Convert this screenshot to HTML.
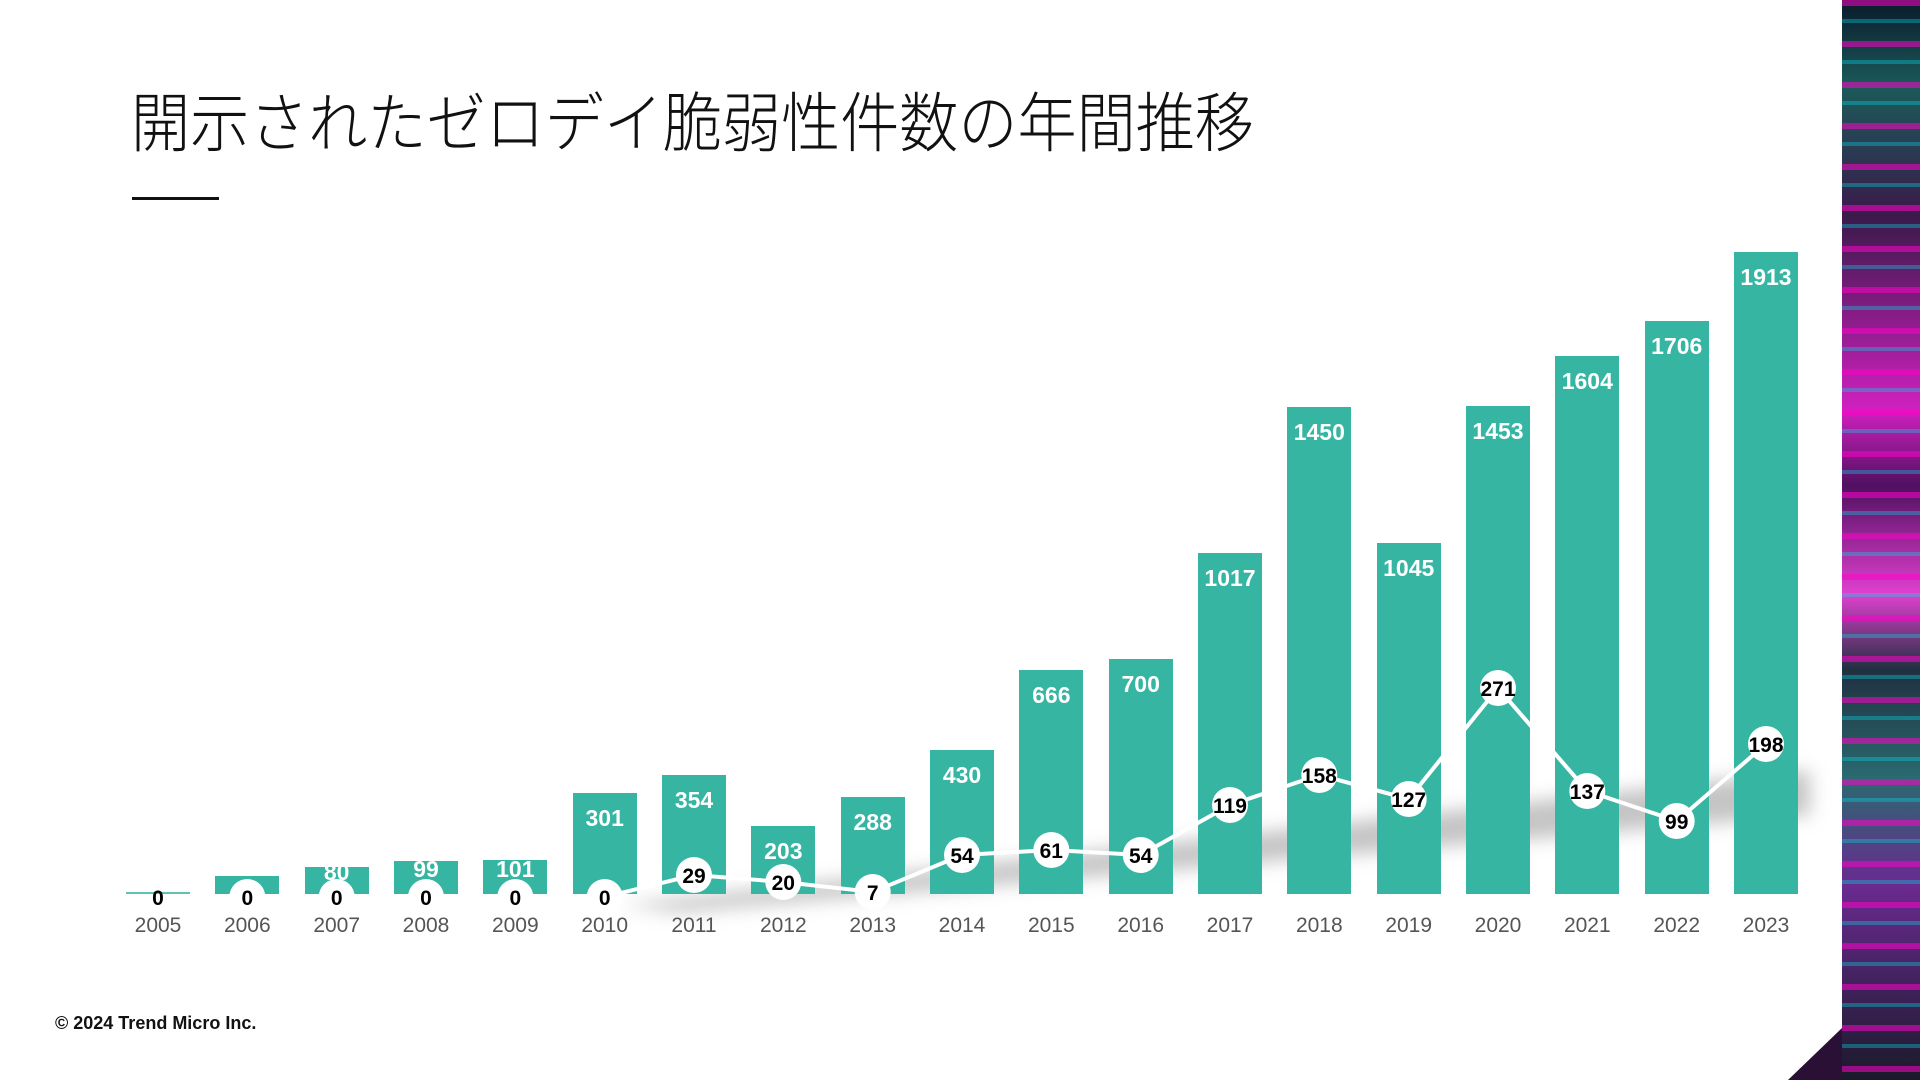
<!DOCTYPE html>
<html><head><meta charset="utf-8"><style>
html,body{margin:0;padding:0;width:1920px;height:1080px;overflow:hidden;background:#fff;}
.title{position:absolute;left:131px;top:92px;font-family:"Liberation Sans","Noto Sans CJK JP",sans-serif;font-size:60px;font-weight:300;color:#111;letter-spacing:0px;transform:scale(0.985,1.08);transform-origin:left top;white-space:nowrap;line-height:1;}
.ul{position:absolute;left:132px;top:197px;width:87px;height:3px;background:#111;}
.copy{position:absolute;left:55px;top:1013px;font-family:"Liberation Sans",sans-serif;font-weight:bold;font-size:18px;color:#111;}
.strip{position:absolute;left:1842px;top:0;width:78px;height:1080px;
background:
repeating-linear-gradient(180deg,rgba(255,0,200,0.55) 0 6px,rgba(0,0,0,0) 6px 19px,rgba(0,220,230,0.35) 19px 23px,rgba(0,0,0,0) 23px 41px),
linear-gradient(180deg,#0a1a2a 0%,#1b5a5a 8%,#3a1a4a 20%,#d020c0 38%,#501060 45%,#e040d0 55%,#203040 62%,#2a6a70 72%,#6a2a90 82%,#1a1a2a 100%);}
.tri{position:absolute;left:1788px;top:1028px;width:0;height:0;border-left:54px solid transparent;border-bottom:52px solid #2a1035;}
</style></head><body>
<div class="title">開示されたゼロデイ脆弱性件数の年間推移</div>
<div class="ul"></div>
<svg width="1920" height="1080" style="position:absolute;left:0;top:0">
<defs><filter id="b" x="-10%" y="-50%" width="120%" height="200%"><feGaussianBlur stdDeviation="9"/></filter></defs>
<polygon points="620,905 1810,770 1810,815 680,912" fill="#c4c4c4" filter="url(#b)"/>
<g fill="#35b5a2">
<rect x="126" y="892" width="64" height="2" opacity=".8"/>
<rect x="215" y="876" width="64" height="18"/>
<rect x="305" y="867" width="64" height="27"/>
<rect x="394" y="861" width="64" height="33"/>
<rect x="483" y="860" width="64" height="34"/>
<rect x="573" y="793" width="64" height="101"/>
<rect x="662" y="775" width="64" height="119"/>
<rect x="751" y="826" width="64" height="68"/>
<rect x="841" y="797" width="64" height="97"/>
<rect x="930" y="750" width="64" height="144"/>
<rect x="1019" y="670" width="64" height="224"/>
<rect x="1109" y="659" width="64" height="235"/>
<rect x="1198" y="553" width="64" height="341"/>
<rect x="1287" y="407" width="64" height="487"/>
<rect x="1377" y="543" width="64" height="351"/>
<rect x="1466" y="406" width="64" height="488"/>
<rect x="1555" y="356" width="64" height="538"/>
<rect x="1645" y="321" width="64" height="573"/>
<rect x="1734" y="252" width="64" height="642"/>
</g>
<g font-family="Liberation Sans,sans-serif" font-weight="bold" font-size="23" fill="#fff" text-anchor="middle">
<text x="336.7" y="880">80</text><text x="426" y="877">99</text><text x="515.3" y="877">101</text>
<text x="604.7" y="826">301</text><text x="694" y="808">354</text><text x="783.3" y="859">203</text>
<text x="872.7" y="830">288</text><text x="962" y="783">430</text><text x="1051.3" y="703">666</text>
<text x="1140.7" y="692">700</text><text x="1230" y="586">1017</text><text x="1319.3" y="440">1450</text>
<text x="1408.7" y="576">1045</text><text x="1498" y="439">1453</text><text x="1587.3" y="389">1604</text>
<text x="1676.7" y="354">1706</text><text x="1766" y="285">1913</text>
</g>
<polyline fill="none" stroke="#fff" stroke-width="4" points="604.7,897 694,875 783.3,882 872.7,892 962,855 1051.3,850 1140.7,855 1230,805 1319.3,775 1408.7,799 1498,688 1587.3,791 1676.7,821 1766,744"/>
<g fill="#fff">
<circle cx="247.3" cy="897" r="18"/><circle cx="336.7" cy="897" r="18"/><circle cx="426" cy="897" r="18"/><circle cx="515.3" cy="897" r="18"/><circle cx="604.7" cy="897" r="18"/>
<circle cx="694" cy="875" r="18"/><circle cx="783.3" cy="882" r="18"/><circle cx="872.7" cy="892" r="18"/><circle cx="962" cy="855" r="18"/>
<circle cx="1051.3" cy="850" r="18"/><circle cx="1140.7" cy="855" r="18"/><circle cx="1230" cy="805" r="18"/><circle cx="1319.3" cy="775" r="18"/>
<circle cx="1408.7" cy="799" r="18"/><circle cx="1498" cy="688" r="18"/><circle cx="1587.3" cy="791" r="18"/><circle cx="1676.7" cy="821" r="18"/><circle cx="1766" cy="744" r="18"/>
</g>
<g font-family="Liberation Sans,sans-serif" font-weight="bold" font-size="21" fill="#000" text-anchor="middle">
<text x="158" y="905">0</text><text x="247.3" y="905">0</text><text x="336.7" y="905">0</text><text x="426" y="905">0</text><text x="515.3" y="905">0</text><text x="604.7" y="905">0</text>
<text x="694" y="883">29</text><text x="783.3" y="890">20</text><text x="872.7" y="900">7</text><text x="962" y="863">54</text>
<text x="1051.3" y="858">61</text><text x="1140.7" y="863">54</text><text x="1230" y="813">119</text><text x="1319.3" y="783">158</text>
<text x="1408.7" y="807">127</text><text x="1498" y="696">271</text><text x="1587.3" y="799">137</text><text x="1676.7" y="829">99</text><text x="1766" y="752">198</text>
</g>
<g font-family="Liberation Sans,sans-serif" font-size="21" fill="#555" text-anchor="middle">
<text x="158" y="932">2005</text><text x="247.3" y="932">2006</text><text x="336.7" y="932">2007</text><text x="426" y="932">2008</text><text x="515.3" y="932">2009</text><text x="604.7" y="932">2010</text><text x="694" y="932">2011</text><text x="783.3" y="932">2012</text><text x="872.7" y="932">2013</text><text x="962" y="932">2014</text><text x="1051.3" y="932">2015</text><text x="1140.7" y="932">2016</text><text x="1230" y="932">2017</text><text x="1319.3" y="932">2018</text><text x="1408.7" y="932">2019</text><text x="1498" y="932">2020</text><text x="1587.3" y="932">2021</text><text x="1676.7" y="932">2022</text><text x="1766" y="932">2023</text>
</g>
</svg>
<div class="copy">© 2024 Trend Micro Inc.</div>
<div class="strip"></div>
<div class="tri"></div>
</body></html>
